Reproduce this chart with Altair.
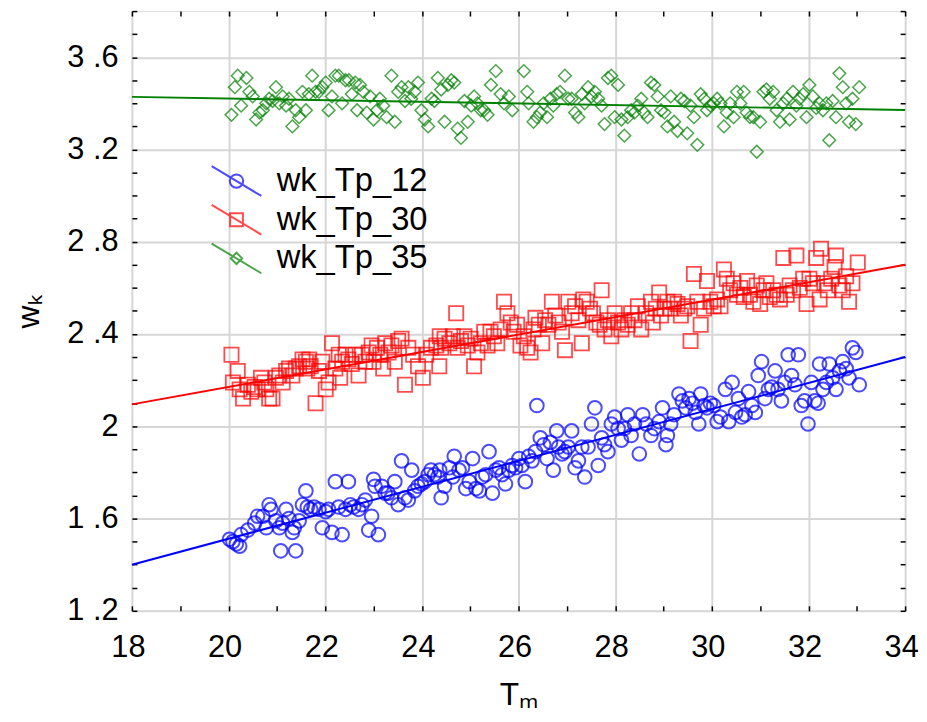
import altair as alt
import pandas as pd

SERIES = ["wk_Tp_12", "wk_Tp_30", "wk_Tp_35"]
COLORS = ["#0000ff", "#ff0000", "#008000"]

# ---- wk_Tp_12 (blue circles)
tp12_x = [20.02, 20.09, 20.16, 20.23, 20.26, 20.40, 20.54, 20.60, 20.71, 20.78, 20.84, 20.88, 20.98, 21.05,
          21.08, 21.12, 21.19, 21.25, 21.32, 21.36, 21.39, 21.46, 21.53, 21.60, 21.63, 21.70, 21.77, 21.87,
          21.94, 22.01, 22.07, 22.14, 22.21, 22.28, 22.35, 22.42, 22.48, 22.52, 22.59, 22.69, 22.76, 22.83,
          22.90, 22.96, 23.00, 23.03, 23.10, 23.17, 23.24, 23.30, 23.37, 23.44, 23.51, 23.58, 23.65, 23.72,
          23.79, 23.85, 23.92, 23.99, 24.06, 24.13, 24.19, 24.26, 24.33,
          24.37, 24.40, 24.47, 24.57, 24.64, 24.67, 24.77, 24.84, 24.91, 24.98, 25.05, 25.12, 25.19, 25.25,
          25.32, 25.39, 25.46, 25.53, 25.60, 25.66, 25.73, 25.80, 25.87, 25.94, 26.01, 26.07, 26.14, 26.21,
          26.28, 26.35, 26.38, 26.45, 26.52, 26.59, 26.66, 26.72, 26.79, 26.83, 26.90, 26.96, 27.03, 27.10,
          27.17, 27.24, 27.31, 27.37, 27.44, 27.51, 27.58, 27.65, 27.72, 27.78, 27.85, 27.92, 27.99, 28.06,
          28.13, 28.19, 28.26, 28.33, 28.40, 28.50, 28.57, 28.64, 28.74,
          28.81, 28.91, 28.98, 29.05, 29.08, 29.15, 29.22, 29.32, 29.39, 29.46, 29.53, 29.60, 29.66, 29.73,
          29.77, 29.84, 29.90, 29.97, 30.04, 30.11, 30.18, 30.28, 30.35, 30.42, 30.49, 30.55, 30.62, 30.69,
          30.76, 30.83, 30.90, 30.96, 31.03, 31.10, 31.17, 31.24, 31.31, 31.37, 31.44, 31.51, 31.58, 31.65,
          31.72, 31.79, 31.85, 31.92, 31.99, 32.06, 32.13, 32.20, 32.23, 32.30, 32.37, 32.43, 32.50, 32.57,
          32.64, 32.71, 32.78, 32.84, 32.91, 32.98, 33.05]
tp12_y = [1.51, 1.50, 1.49, 1.48, 1.53, 1.55, 1.58, 1.61, 1.61, 1.56, 1.66, 1.64, 1.59, 1.56,
          1.46, 1.58, 1.64, 1.60, 1.54, 1.56, 1.46, 1.59, 1.66, 1.72, 1.65, 1.64, 1.65, 1.64,
          1.56, 1.63, 1.64, 1.54, 1.76, 1.65, 1.53, 1.64, 1.76, 1.66, 1.65, 1.64, 1.66, 1.68,
          1.55, 1.61, 1.77, 1.74, 1.53, 1.74, 1.71, 1.71, 1.69, 1.76, 1.66, 1.85, 1.69, 1.68,
          1.81, 1.72, 1.74, 1.75, 1.76, 1.79, 1.81, 1.79, 1.78,
          1.81, 1.69, 1.74, 1.82, 1.78, 1.87, 1.81, 1.82, 1.73, 1.76, 1.86, 1.73, 1.72, 1.78,
          1.79, 1.89, 1.71, 1.81, 1.82, 1.79, 1.75, 1.81, 1.83, 1.82, 1.86, 1.83, 1.76, 1.87,
          1.85, 1.89, 2.09, 1.95, 1.92, 1.86, 1.93, 1.81, 1.98, 1.91, 1.88, 1.89, 1.91, 1.98,
          1.82, 1.85, 1.91, 1.78, 1.91, 2.01, 2.08, 1.83, 1.95, 1.92, 1.89, 2.01, 2.04, 1.99,
          1.94, 1.99, 2.05, 1.96, 2.01, 1.88, 2.05, 2.01, 1.96,
          1.99, 2.02, 2.08, 1.92, 1.96, 2.01, 2.05, 2.14, 2.11, 2.08, 2.12, 2.10, 2.06, 2.01,
          2.14, 2.09, 2.08, 2.10, 2.09, 2.02, 2.04, 2.16, 2.02, 2.19, 2.06, 2.12, 2.04, 2.05,
          2.15, 2.09, 2.06, 2.22, 2.28, 2.12, 2.16, 2.17, 2.24, 2.16, 2.11, 2.19, 2.31, 2.22,
          2.18, 2.31, 2.09, 2.11, 2.01, 2.19, 2.11, 2.10, 2.27, 2.16, 2.19, 2.27, 2.21, 2.16,
          2.24, 2.28, 2.25, 2.21, 2.34, 2.32, 2.18]

# ---- wk_Tp_30 (red squares)
tp30_x = [20.06, 20.09, 20.19, 20.23, 20.30, 20.40, 20.47, 20.54, 20.60, 20.67, 20.74, 20.78, 20.84, 20.91,
          20.98, 21.05, 21.12, 21.19, 21.25, 21.32, 21.39, 21.46, 21.53, 21.60, 21.63, 21.67, 21.70, 21.80,
          21.87, 21.94, 22.01, 22.07, 22.14, 22.21, 22.28, 22.31, 22.35, 22.42, 22.48, 22.55, 22.62, 22.69,
          22.76, 22.83, 22.90, 22.96, 23.00, 23.07, 23.14, 23.20, 23.24, 23.31, 23.37, 23.44, 23.51, 23.58,
          23.65, 23.72, 23.82, 23.92, 24.02, 24.09, 24.19, 24.30, 24.37,
          24.36, 24.40, 24.47, 24.57, 24.64, 24.71, 24.74, 24.81, 24.88, 24.95, 25.01, 25.08, 25.15, 25.22,
          25.29, 25.36, 25.42, 25.49, 25.56, 25.63, 25.70, 25.77, 25.84, 25.90, 25.97, 26.04, 26.11, 26.18,
          26.25, 26.31, 26.35, 26.42, 26.49, 26.55, 26.62, 26.69, 26.76, 26.83, 26.90, 26.96, 27.03, 27.10,
          27.17, 27.24, 27.31, 27.34, 27.41, 27.48, 27.54, 27.61, 27.68, 27.72, 27.78, 27.85, 27.92, 27.99,
          28.06, 28.13, 28.19, 28.26, 28.33, 28.40, 28.47, 28.54, 28.64, 28.74,
          28.78, 28.84, 28.91, 28.95, 29.02, 29.08, 29.15, 29.22, 29.29, 29.36, 29.43, 29.49, 29.56, 29.63,
          29.70, 29.77, 29.84, 29.90, 29.97, 30.04, 30.11, 30.18, 30.25, 30.31, 30.38, 30.45, 30.52, 30.59,
          30.66, 30.73, 30.79, 30.86, 30.93, 31.00, 31.07, 31.13, 31.20, 31.27, 31.34, 31.41, 31.48, 31.55,
          31.61, 31.68, 31.75, 31.82, 31.89, 31.96, 32.02, 32.09, 32.16, 32.23, 32.26, 32.33, 32.40, 32.47,
          32.54, 32.57, 32.64, 32.71, 32.78, 32.84, 32.91, 33.02]
tp30_y = [2.31, 2.19, 2.24, 2.16, 2.12, 2.18, 2.15, 2.17, 2.16, 2.21, 2.19, 2.16, 2.12, 2.12,
          2.21, 2.22, 2.19, 2.24, 2.25, 2.22, 2.25, 2.26, 2.29, 2.28, 2.25, 2.29, 2.26, 2.10,
          2.24, 2.28, 2.16, 2.19, 2.36, 2.25, 2.31, 2.21, 2.28, 2.31, 2.29, 2.27, 2.31, 2.22,
          2.31, 2.28, 2.32, 2.35, 2.28, 2.34, 2.31, 2.25, 2.36, 2.32, 2.35, 2.28, 2.37, 2.38,
          2.18, 2.34, 2.31, 2.26, 2.21, 2.31, 2.34, 2.35, 2.39,
          2.26, 2.34, 2.38, 2.36, 2.39, 2.49, 2.34, 2.37, 2.39, 2.35, 2.38, 2.26, 2.32, 2.36,
          2.41, 2.35, 2.41, 2.39, 2.36, 2.42, 2.54, 2.49, 2.45, 2.41, 2.44, 2.35, 2.39, 2.34,
          2.32, 2.42, 2.47, 2.44, 2.36, 2.46, 2.44, 2.54, 2.48, 2.45, 2.41, 2.33, 2.54, 2.49,
          2.52, 2.46, 2.36, 2.55, 2.54, 2.51, 2.49, 2.45, 2.44, 2.59, 2.42, 2.46, 2.39, 2.49,
          2.45, 2.42, 2.46, 2.44, 2.49, 2.46, 2.52, 2.42, 2.49, 2.54,
          2.45, 2.51, 2.58, 2.48, 2.51, 2.54, 2.51, 2.54, 2.53, 2.48, 2.51, 2.52, 2.37, 2.66,
          2.54, 2.44, 2.51, 2.63, 2.54, 2.52, 2.55, 2.52, 2.68, 2.64, 2.59, 2.62, 2.57, 2.60,
          2.56, 2.63, 2.57, 2.54, 2.61, 2.53, 2.59, 2.62, 2.56, 2.59, 2.57, 2.55, 2.73, 2.57,
          2.61, 2.59, 2.74, 2.60, 2.64, 2.53, 2.64, 2.62, 2.73, 2.55, 2.77, 2.62, 2.59, 2.64,
          2.69, 2.74, 2.61, 2.59, 2.65, 2.54, 2.62, 2.71]

# ---- wk_Tp_35 (green diamonds)
tp35_x = [20.06, 20.13, 20.19, 20.26, 20.37, 20.43, 20.50, 20.57, 20.64, 20.71, 20.78, 20.84, 20.91, 20.98,
          21.05, 21.12, 21.19, 21.25, 21.32, 21.39, 21.46, 21.53, 21.60, 21.66, 21.73, 21.80, 21.87, 21.94,
          22.01, 22.07, 22.14, 22.21, 22.28, 22.35, 22.42, 22.49, 22.55, 22.62, 22.66, 22.72, 22.79, 22.86,
          22.93, 23.00, 23.07, 23.13, 23.20, 23.27, 23.37, 23.44, 23.51, 23.58, 23.65, 23.72, 23.78, 23.85,
          23.92, 23.99, 24.06, 24.13, 24.20, 24.26, 24.33, 24.40, 24.47, 24.54, 24.61, 24.67, 24.74, 24.81,
          24.88, 24.95, 25.02, 25.08, 25.15, 25.22, 25.29, 25.36, 25.43, 25.53, 25.63, 25.70, 25.80, 25.87,
          26.11, 26.18, 26.21, 26.31, 26.38, 26.45, 26.52, 26.59, 26.66, 26.72, 26.79, 26.86, 26.96, 27.03,
          27.10, 27.17, 27.24, 27.31, 27.37, 27.44, 27.51, 27.58, 27.65, 27.72, 27.78, 27.85, 27.92, 27.99,
          28.06, 28.13, 28.19, 28.26, 28.33, 28.40, 28.47, 28.54, 28.60, 28.67, 28.74, 28.81, 28.88, 28.95,
          29.02, 29.08, 29.15, 29.22, 29.29, 29.36, 29.43, 29.49, 29.56, 29.63, 29.70, 29.77, 29.84, 29.90,
          29.97, 30.04, 30.11, 30.18, 30.25, 30.31, 30.38, 30.45, 30.52, 30.59, 30.66, 30.72, 30.79, 30.86,
          30.93, 31.00, 31.07, 31.13, 31.20, 31.27, 31.34, 31.41, 31.48, 31.55, 31.61, 31.68, 31.75, 31.82,
          31.89, 31.96, 32.02, 32.09, 32.16, 32.23, 32.30, 32.37, 32.43, 32.50, 32.57, 32.64, 32.71, 32.78,
          32.84, 32.91, 32.98, 33.05]
tp35_y = [3.35, 3.47, 3.52, 3.39, 3.51, 3.45, 3.43, 3.33, 3.36, 3.37, 3.40, 3.42, 3.41, 3.47,
          3.40, 3.43, 3.39, 3.42, 3.30, 3.37, 3.34, 3.45, 3.37, 3.44, 3.52, 3.45, 3.45, 3.47,
          3.49, 3.37, 3.43, 3.52, 3.52, 3.40, 3.50, 3.50, 3.44, 3.49, 3.37, 3.48, 3.45, 3.36,
          3.43, 3.33, 3.37, 3.42, 3.39, 3.34, 3.52, 3.32, 3.45, 3.47, 3.41, 3.47, 3.42, 3.45,
          3.49, 3.37, 3.33, 3.30, 3.42, 3.41, 3.51, 3.46, 3.32, 3.48, 3.50, 3.49, 3.29, 3.25,
          3.41, 3.32, 3.39, 3.43, 3.40, 3.37, 3.37, 3.35, 3.48, 3.54, 3.44, 3.40, 3.43, 3.37,
          3.54, 3.45, 3.40, 3.32, 3.34, 3.36, 3.40, 3.34, 3.42, 3.39, 3.44, 3.45, 3.52, 3.42,
          3.42, 3.36, 3.34, 3.44, 3.40, 3.47, 3.43, 3.45, 3.42, 3.39, 3.31, 3.51, 3.52, 3.34,
          3.48, 3.33, 3.26, 3.34, 3.37, 3.36, 3.39, 3.42, 3.36, 3.34, 3.49, 3.48, 3.43, 3.37,
          3.36, 3.30, 3.43, 3.32, 3.28, 3.42, 3.41, 3.27, 3.39, 3.34, 3.22, 3.44, 3.42, 3.37,
          3.39, 3.40, 3.42, 3.40, 3.30, 3.36, 3.40, 3.34, 3.45, 3.40, 3.45, 3.36, 3.34, 3.34,
          3.19, 3.32, 3.45, 3.46, 3.42, 3.45, 3.37, 3.32, 3.40, 3.42, 3.33, 3.45, 3.39, 3.42,
          3.44, 3.34, 3.48, 3.43, 3.38, 3.40, 3.37, 3.40, 3.24, 3.41, 3.34, 3.53, 3.47, 3.40,
          3.32, 3.42, 3.31, 3.47]

# ---- straight fitted lines (end points)
fit_x = [18, 34]
fit_tp12 = [1.40, 2.30]
fit_tp30 = [2.095, 2.70]
fit_tp35 = [3.428, 3.371]

# ---- axis tick values
X_TICKS = [18, 19, 20, 21, 22, 23, 24, 25, 26, 27, 28, 29, 30, 31, 32, 33, 34]
Y_TICKS = [1.2, 1.3, 1.4, 1.5, 1.6, 1.7, 1.8, 1.9, 2.0, 2.1, 2.2, 2.3, 2.4, 2.5, 2.6, 2.7,
           2.8, 2.9, 3.0, 3.1, 3.2, 3.3, 3.4, 3.5, 3.6, 3.7, 3.8]

FONT = "Liberation Sans, Arial, Noto Sans, DejaVu Sans"
GRID = "#d6d6d6"
TICK = 5

xs = alt.Scale(domain=[18, 34], nice=False, zero=False)
ys = alt.Scale(domain=[1.2, 3.8], nice=False, zero=False)

x_bottom = alt.Axis(
    orient="bottom", values=X_TICKS, title="Tₘ", offset=-TICK, domain=False,
    tickSize=TICK, tickColor="black", tickWidth=1.5,
    labelExpr="datum.value % 2 == 0 ? datum.label : ''", labelOverlap=False, labelFlush=False,
    labelFont=FONT, labelFontSize=31, labelColor="black", labelPadding=22, labelOffset=-4,
    grid=True, gridColor=GRID, gridWidth=2,
    gridOpacity={"condition": {"test": "datum.value % 2 == 0", "value": 1}, "value": 0},
    titleFont=FONT, titleFontSize=32, titleFontWeight="normal", titleColor="black", titlePadding=18,
)
x_top = alt.Axis(
    orient="top", values=X_TICKS, title=None, offset=-TICK, domain=False, labels=False,
    tickSize=TICK, tickColor="black", tickWidth=1.5, grid=False,
)
y_left = alt.Axis(
    orient="left", values=Y_TICKS, title="wₖ", offset=-TICK, domain=False,
    tickSize=TICK, tickColor="black", tickWidth=1.5,
    labelExpr="round(datum.value*10) % 4 == 0 ? replace(format(datum.value, '.2~f'), '.', ' .') : ''",
    labelOverlap=False, labelFlush=False,
    labelFont=FONT, labelFontSize=31, labelColor="black", labelPadding=14,
    grid=True, gridColor=GRID, gridWidth=2,
    gridOpacity={"condition": {"test": "round(datum.value*10) % 4 == 0", "value": 1}, "value": 0},
    titleFont=FONT, titleFontSize=32, titleFontWeight="normal", titleColor="black", titlePadding=22,
)
y_right = alt.Axis(
    orient="right", values=Y_TICKS, title=None, offset=-TICK, domain=False, labels=False,
    tickSize=TICK, tickColor="black", tickWidth=1.5, grid=False,
)


def pts(xv, yv):
    return pd.DataFrame({"Tm": xv, "wk": yv})


def fit(yv):
    return pd.DataFrame({"Tm": fit_x, "wk": yv})


def line_layer(yv, color):
    return alt.Chart(fit(yv)).mark_line(color=color, strokeWidth=2).encode(
        x=alt.X("Tm:Q", scale=xs, axis=None),
        y=alt.Y("wk:Q", scale=ys, axis=None),
    )


blue_pts = alt.Chart(pts(tp12_x, tp12_y)).mark_point(
    shape="circle", filled=False, color=COLORS[0], size=190, strokeWidth=2
).encode(
    x=alt.X("Tm:Q", scale=xs, axis=x_bottom),
    y=alt.Y("wk:Q", scale=ys, axis=y_left),
)
red_pts = alt.Chart(pts(tp30_x, tp30_y)).mark_point(
    shape="square", filled=False, color=COLORS[1], size=205, strokeWidth=1.8
).encode(
    x=alt.X("Tm:Q", scale=xs, axis=x_top),
    y=alt.Y("wk:Q", scale=ys, axis=y_right),
)
green_pts = alt.Chart(pts(tp35_x, tp35_y)).mark_point(
    shape="diamond", filled=False, color=COLORS[2], size=165, strokeWidth=1.5
).encode(
    x=alt.X("Tm:Q", scale=xs, axis=None),
    y=alt.Y("wk:Q", scale=ys, axis=None),
)

# legend symbols: a slanted line with the marker on it
LEG_SHAPES = [
    "M-1.67,-1L1.67,1M0.45,0A0.45,0.45,0,1,1,-0.45,0A0.45,0.45,0,1,1,0.45,0",
    "M-1.67,-1L1.67,1M-0.43,-0.43L0.43,-0.43L0.43,0.43L-0.43,0.43Z",
    "M-1.67,-1L1.67,1M0,-0.38L0.38,0L0,0.38L-0.38,0Z",
]
leg = alt.Legend(
    title=None, orient="none", legendX=89, legendY=155,
    labelFont=FONT, labelFontSize=33, labelColor="black", labelOffset=24,
    symbolSize=900, symbolStrokeWidth=2, rowPadding=0, padding=0,
)
legend_layer = alt.Chart(pd.DataFrame({"series": SERIES})).mark_point(
    filled=False, clip=True
).encode(
    x=alt.value(-500),
    y=alt.value(-500),
    shape=alt.Shape("series:N", scale=alt.Scale(domain=SERIES, range=LEG_SHAPES), legend=leg),
    color=alt.Color("series:N", scale=alt.Scale(domain=SERIES, range=COLORS), legend=leg),
)

chart = alt.layer(
    blue_pts, red_pts, green_pts,
    line_layer(fit_tp12, COLORS[0]),
    line_layer(fit_tp30, COLORS[1]),
    line_layer(fit_tp35, COLORS[2]),
    legend_layer,
).resolve_axis(x="independent", y="independent").properties(
    width=780, height=605,
    autosize=alt.AutoSizeParams(type="none"),
    padding={"left": 125, "top": 0, "right": 14, "bottom": 101},
).configure_view(
    stroke="black", strokeWidth=2
).configure(background="white")

chart.save("out.html", embed_options={"renderer": "svg", "actions": False})
